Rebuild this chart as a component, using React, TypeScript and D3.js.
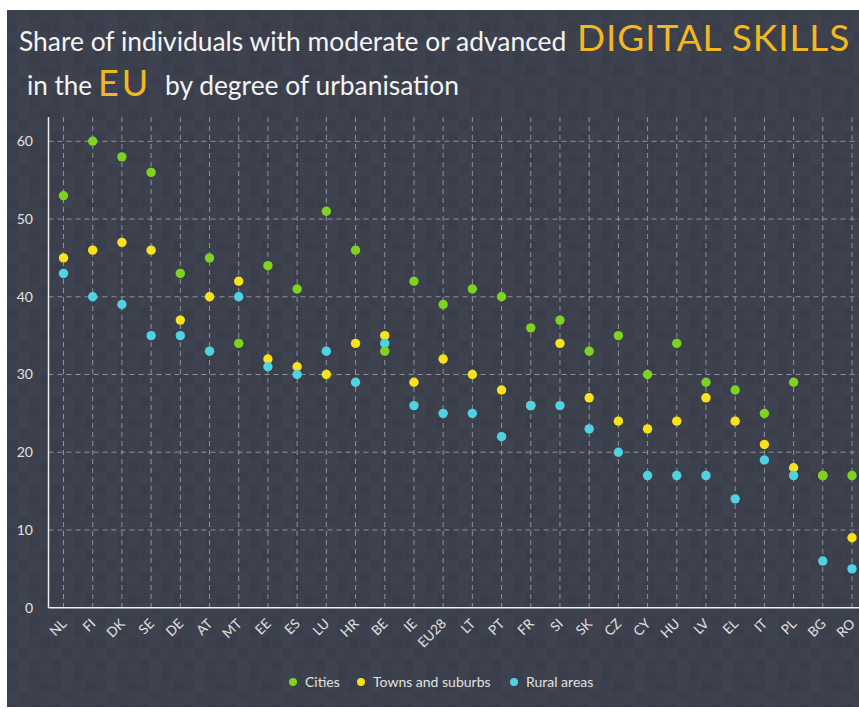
import React from 'react';
import * as d3 from 'd3';

// values (percent of individuals)
const countries = ['NL', 'FI', 'DK', 'SE', 'DE', 'AT', 'MT', 'EE', 'ES', 'LU', 'HR', 'BE', 'IE', 'EU28',
  'LT', 'PT', 'FR', 'SI', 'SK', 'CZ', 'CY', 'HU', 'LV', 'EL', 'IT', 'PL', 'BG', 'RO'];
const cities = [53, 60, 58, 56, 43, 45, 34, 44, 41, 51, 46, 33, 42, 39, 41, 40, 36, 37, 33, 35, 30, 34, 29, 28, 25, 29, 17, 17];
const towns = [45, 46, 47, 46, 37, 40, 42, 32, 31, 30, 34, 35, 29, 32, 30, 28, 26, 34, 27, 24, 23, 24, 27, 24, 21, 18, 17, 9];
const rural = [43, 40, 39, 35, 35, 33, 40, 31, 30, 33, 29, 34, 26, 25, 25, 22, 26, 26, 23, 20, 17, 17, 17, 14, 19, 17, 6, 5];
const yTicks = [0, 10, 20, 30, 40, 50, 60];
const seriesNames = ['Cities', 'Towns and suburbs', 'Rural areas'];
const seriesColors = ['#7ed321', '#f8e21c', '#4fd3e3'];

const W = 859;
const H = 709;
const BG = '#3b404b';
const FONT = 'Lato, "Open Sans", sans-serif';
const GOLD = '#f2b824';

// shades for the tiled background texture
const tileShades = [0, 2, -2, 1, -1, 3, 0, -3, 2, -1, 1, 0, -2, 3, -1, 1];

function shade(hex: string, d: number) {
  const c = d3.rgb(hex);
  return d3.rgb(c.r + d, c.g + d, c.b + d + 1).formatHex();
}

export default function App() {
  const x = d3.scalePoint<string>().domain(countries).range([63.5, 852]);
  const y = d3.scaleLinear().domain([0, 60]).range([607.7, 141.3]);
  const plotTop = 117;
  const axisX = 48.5;

  const drawOrder = [1, 2, 0]; // towns, rural, then cities on top
  const allSeries = [cities, towns, rural];

  const legendItems = [
    { x: 293, label: seriesNames[0], color: seriesColors[0] },
    { x: 361, label: seriesNames[1], color: seriesColors[1] },
    { x: 514, label: seriesNames[2], color: seriesColors[2] },
  ];

  return (
    <svg width={W} height={H} style={{ position: 'absolute', left: 0, top: 0, display: 'block' }}>
      <defs>
        <pattern id="tiles" width={44} height={44} patternUnits="userSpaceOnUse" x={7} y={10}>
          {tileShades.map((s, i) => (
            <rect key={i} x={(i % 4) * 11} y={Math.floor(i / 4) * 11} width={11} height={11}
              fill={shade(BG, s)} stroke={shade(BG, 3)} strokeWidth={0.5} />
          ))}
        </pattern>
      </defs>
      <rect x={0} y={0} width={W} height={H} fill="#ffffff" />
      <rect x={7} y={10} width={W - 7} height={697} fill="url(#tiles)" />

      {/* title */}
      <text x={19} y={50.5} fontFamily={FONT} fontSize={26.4} fill="#f4f4f4">
        Share of individuals with moderate or advanced
      </text>
      <text x={577} y={50.5} fontFamily={FONT} fontSize={37} fontWeight={400} letterSpacing={0.9} fill={GOLD}>
        DIGITAL SKILLS
      </text>
      <text x={27} y={95} fontFamily={FONT} fontSize={26} fill="#f4f4f4">in the</text>
      <text x={98} y={96} fontFamily={FONT} fontSize={36} fontWeight={400} letterSpacing={3} fill={GOLD}>EU</text>
      <text x={165} y={95} fontFamily={FONT} fontSize={26.4} fill="#f4f4f4">by degree of urbanisation</text>

      {/* grid */}
      {yTicks.filter(t => t > 0).map(t => (
        <line key={'h' + t} x1={axisX} x2={W} y1={y(t)} y2={y(t)}
          stroke="#a9acb3" strokeOpacity={0.75} strokeWidth={1} strokeDasharray="5,4" />
      ))}
      {countries.map(c => (
        <line key={'v' + c} x1={x(c)} x2={x(c)} y1={plotTop} y2={y(0)}
          stroke="#a9acb3" strokeOpacity={0.75} strokeWidth={1} strokeDasharray="5,4" />
      ))}

      {/* axes */}
      <line x1={axisX} x2={axisX} y1={plotTop} y2={y(0)} stroke="#ececec" strokeWidth={1.5} />
      <line x1={axisX} x2={W} y1={y(0)} y2={y(0)} stroke="#ececec" strokeWidth={1.5} />
      {yTicks.map(t => (
        <text key={'yt' + t} x={33} y={y(t)} dy="0.35em" textAnchor="end"
          fontFamily={FONT} fontSize={14} fill="#e2e2e2">{t}</text>
      ))}
      {countries.map(c => (
        <text key={'xt' + c} transform={`translate(${(x(c) as number) + 0.5},${y(0) + 13.5}) rotate(-45)`}
          textAnchor="end" dy="0.35em" fontFamily={FONT} fontSize={13.5} fill="#e2e2e2">{c}</text>
      ))}

      {/* dots */}
      {drawOrder.map(si => (
        <g key={'s' + si}>
          {allSeries[si].map((v, i) => (
            <circle key={i} cx={x(countries[i])} cy={y(v)} r={4.7} fill={seriesColors[si]} />
          ))}
        </g>
      ))}

      {/* legend */}
      {legendItems.map(it => (
        <g key={it.label}>
          <circle cx={it.x} cy={682} r={4} fill={it.color} />
          <text x={it.x + 12} y={682} dy="0.35em" fontFamily={FONT} fontSize={14} fill="#e2e2e2">{it.label}</text>
        </g>
      ))}
    </svg>
  );
}
